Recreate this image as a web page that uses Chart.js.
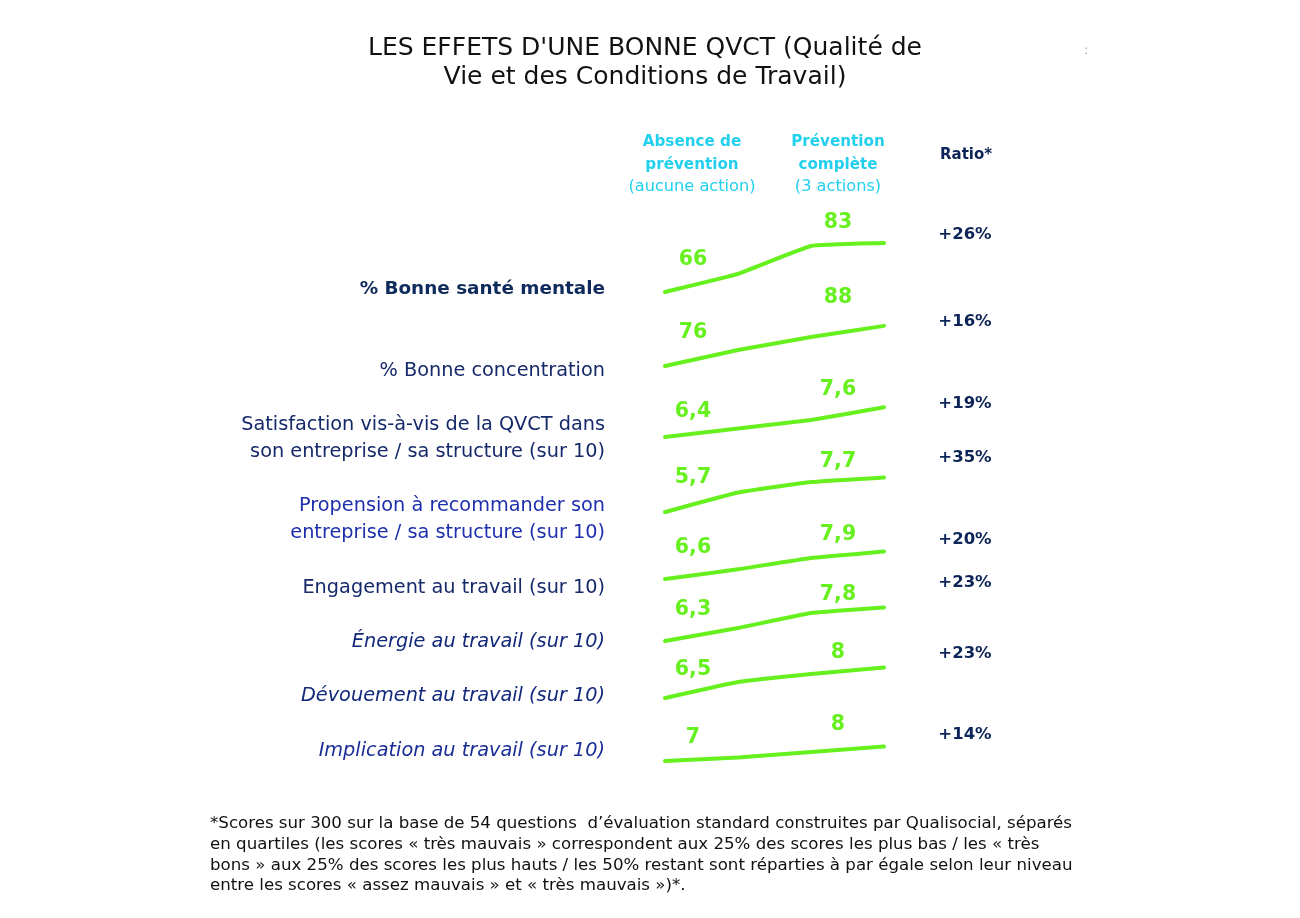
<!DOCTYPE html>
<html lang="fr">
<head>
<meta charset="utf-8">
<script src="https://cdn.jsdelivr.net/npm/chart.js@4"></script>
<style>
  html, body { margin:0; padding:0; background:#fff; }
  #wrap { position:relative; width:1300px; height:918px; overflow:hidden; background:#fff; }
  #c { position:absolute; left:0; top:0; }
  .t { position:absolute; white-space:nowrap; }
  .title { font-family:"DejaVu Sans", sans-serif; font-size:24px; color:#111; text-align:center; left:345px; width:600px; line-height:29px; top:33px; transform-origin:50% 0; }
  .hdr { font-family:"DejaVu Sans", sans-serif; color:#22d0ee; text-align:center; width:200px; font-size:16.2px; line-height:22.5px; top:130px; }
  .hdr b { font-weight:bold; font-size:15.2px; }
  .ratioHdr { font-family:"DejaVu Sans", sans-serif; font-weight:bold; color:#0d2458; font-size:15px; }
  .rowlab { font-family:"DejaVu Sans", sans-serif; font-size:19.3px; right:695px; text-align:right; transform:translateY(-50%); line-height:27px; }
  .ratio { font-family:"DejaVu Sans", sans-serif; font-weight:bold; font-size:16.5px; color:#0d2458; transform:translate(-50%,-50%); }
  .foot { font-family:"DejaVu Sans Condensed", "DejaVu Sans", sans-serif; font-size:15px; line-height:20.8px; color:#111; left:210px; top:813px; transform-origin:0 0; }
</style>
</head>
<body>
<div id="wrap">
  <canvas id="c" width="1300" height="918"></canvas>
</div>
<script>
// ---------- DATA ----------
const rowLabels = [
  ["% Bonne santé mentale"],
  ["% Bonne concentration"],
  ["Satisfaction vis-à-vis de la QVCT dans", "son entreprise / sa structure (sur 10)"],
  ["Propension à recommander son", "entreprise / sa structure (sur 10)"],
  ["Engagement au travail (sur 10)"],
  ["Énergie au travail (sur 10)"],
  ["Dévouement au travail (sur 10)"],
  ["Implication au travail (sur 10)"]
];
// value without prevention (point 0) and with full prevention (point 2)
const absenceValues   = [66, 76, 6.4, 5.7, 6.6, 6.3, 6.5, 7];
const completeValues  = [83, 88, 7.6, 7.7, 7.9, 7.8, 8, 8];
// unlabeled intermediate / end points of each drawn line
const midValues       = [72.7, 82.6, 7.0, 7.0, 7.2, 7.0, 7.5, 7.4];
const tailValues      = [84.1, 92.6, 8.5, 8.0, 8.3, 8.1, 8.4, 8.6];
const ratioLabels     = ["+26%", "+16%", "+19%", "+35%", "+20%", "+23%", "+23%", "+14%"];
const xSteps          = [0, 1, 2, 3];

// ---------- LAYOUT (pixels, styles) ----------
const W = 1300, H = 918;
const xStart = 665, xEnd = 884;
// pixel rows where each row's absence / complete value should sit (axis calibration)
const rowAnchorPx = [[292,246],[366,337],[437,420],[512,482],[579,558],[641,613],[698,674],[761,752]];
const labelDyStart = [-32,-33,-25,-34,-31,-31,-28,-23];
const labelDyEnd   = [-23,-39,-30,-20,-23,-18,-21,-27];
const labelDx = 28;
const rowLabelY = [[287],[369],[423,450],[504,531],[586],[640],[694],[749]];
const rowLabelStyle = [
  {c:"#0f2b5b", w:"bold", i:false, s:"18.4px"},
  {c:"#16296a", w:"normal", i:false},
  {c:"#16296a", w:"normal", i:false},
  {c:"#1e2fae", w:"normal", i:false},
  {c:"#16296a", w:"normal", i:false},
  {c:"#12287a", w:"normal", i:true},
  {c:"#12287a", w:"normal", i:true},
  {c:"#1a2d96", w:"normal", i:true}
];
const ratioY = [233, 320, 402, 456, 538, 581, 652, 733];
const ratioX = 965;
const green = "#66f01e";

const wrap = document.getElementById('wrap');
function addDiv(cls, html, style) {
  const d = document.createElement('div');
  d.className = 't ' + cls;
  d.innerHTML = html;
  Object.assign(d.style, style || {});
  wrap.appendChild(d);
  return d;
}
const titleDiv = addDiv('title', "<span id='tl1'>LES EFFETS D'UNE BONNE QVCT (Qualité de</span><br><span>Vie et des Conditions de Travail)</span>");
addDiv('', ":", {left:'1084px', top:'42px', fontSize:'13px', color:'#aaa', fontFamily:'DejaVu Sans'});
addDiv('hdr', "<b>Absence de<br>prévention</b><br>(aucune action)", {left:(692-100)+'px'});
addDiv('hdr', "<b>Prévention<br>complète</b><br>(3 actions)", {left:(838-100)+'px'});
addDiv('ratioHdr', "Ratio*", {left:'940px', top:'145px'});
rowLabels.forEach((lines, r) => {
  lines.forEach((txt, k) => {
    const s = rowLabelStyle[r];
    const st = {top: rowLabelY[r][k] + 'px', color: s.c, fontWeight: s.w, fontStyle: s.i ? 'italic' : 'normal'};
    if (s.s) st.fontSize = s.s;
    addDiv('rowlab', txt, st);
  });
});
ratioLabels.forEach((txt, r) => addDiv('ratio', txt, {left: ratioX + 'px', top: ratioY[r] + 'px'}));
const footDiv = addDiv('foot', "<span id='fl1'>*Scores sur 300 sur la base de 54 questions&nbsp; d’évaluation standard construites par Qualisocial, séparés</span><br>" +
  "en quartiles (les scores « très mauvais » correspondent aux 25% des scores les plus bas / les « très<br>" +
  "bons » aux 25% des scores les plus hauts / les 50% restant sont réparties à par égale selon leur niveau<br>" +
  "entre les scores « assez mauvais » et « très mauvais »)*.");
// fit widths of title and footnote to the reference's text widths
const tw = document.getElementById('tl1').getBoundingClientRect().width;
titleDiv.style.transform = 'scaleX(' + (554 / tw) + ')';
const fw = document.getElementById('fl1').getBoundingClientRect().width;
footDiv.style.transform = 'scaleX(' + (862 / fw) + ')';

// ---------- CHART ----------
const fmt = v => String(v).replace('.', ',');
const datasets = [];
const scales = {
  x: { type:'linear', min:0, max:3, display:false }
};
absenceValues.forEach((a, r) => {
  const b = completeValues[r];
  const [pa, pb] = rowAnchorPx[r];
  const range = (b - a) * H / (pa - pb);
  const max = a + pa * range / H;
  const id = 'y' + r;
  scales[id] = { type:'linear', display:false, min: max - range, max: max };
  datasets.push({
    yAxisID: id,
    data: xSteps.map((x, i) => ({x, y: [a, midValues[r], b, tailValues[r]][i]})),
    borderColor: green,
    borderWidth: 4,
    pointRadius: 0,
    tension: 0.1,
    borderCapStyle: 'round',
    borderJoinStyle: 'round',
    clip: false,
    fill: false
  });
});

const valueLabels = {
  id: 'valueLabels',
  afterDatasetsDraw(chart) {
    const ctx = chart.ctx;
    ctx.save();
    ctx.fillStyle = green;
    ctx.font = 'bold 20.5px "DejaVu Sans", sans-serif';
    ctx.textAlign = 'center';
    ctx.textBaseline = 'middle';
    chart.data.datasets.forEach((ds, r) => {
      const meta = chart.getDatasetMeta(r);
      const p0 = meta.data[0], p2 = meta.data[2];
      ctx.fillText(fmt(absenceValues[r]), p0.x + labelDx, p0.y + labelDyStart[r]);
      ctx.fillText(fmt(completeValues[r]), p2.x + labelDx - 1, p2.y + labelDyEnd[r]);
    });
    ctx.restore();
  }
};

new Chart(document.getElementById('c'), {
  type: 'line',
  data: { datasets },
  options: {
    responsive: false,
    animation: false,
    devicePixelRatio: 1,
    layout: { padding: { left: xStart, right: W - xEnd, top: 0, bottom: 0 } },
    scales,
    plugins: { legend: { display:false }, tooltip: { enabled:false } }
  },
  plugins: [valueLabels]
});
</script>
</body>
</html>
